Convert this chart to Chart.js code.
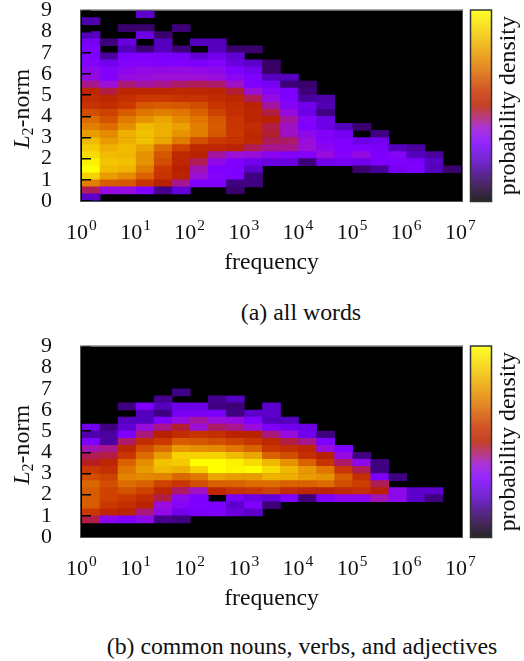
<!DOCTYPE html>
<html lang="en">

<head>
    <meta charset="UTF-8">
    <title>L2-norm vs frequency</title>
    <script src="https://cdn.jsdelivr.net/npm/chart.js"></script>
    <style>
        html, body { margin: 0; padding: 0; background: #fff; width: 524px; height: 661px; overflow: hidden; }
        canvas { position: absolute; left: 0; }
        #chartA { top: 0; }
        #chartB { top: 336px; }
        .caption { position: absolute; left: 0; font-family: "Liberation Serif", serif; font-size: 23.8px; color: #111; white-space: nowrap; }
    </style>
</head>

<body>
    <canvas id="chartA" width="524" height="280"></canvas>
    <canvas id="chartB" width="524" height="280"></canvas>
    <div class="caption" style="left:0;width:602px;text-align:center;top:299px">(a) all words</div>
    <div class="caption" style="left:0;width:604px;text-align:center;top:633px">(b) common nouns, verbs, and adjectives</div>

    <script>
        const decadeTicks = [1, 10, 100, 1000, 10000, 100000, 1000000, 10000000];
        const decadeExponents = ['0', '1', '2', '3', '4', '5', '6', '7'];
        const normTicks = [0, 1, 2, 3, 4, 5, 6, 7, 8, 9];

        // bin centres on log10(frequency), 3 bins per decade
        const freqBins = [0.167, 0.5, 0.833, 1.167, 1.5, 1.833, 2.167, 2.5, 2.833, 3.167, 3.5, 3.833, 4.167, 4.5, 4.833, 5.167, 5.5, 5.833, 6.167, 6.5, 6.833];
        // lower edge of every norm bin, 3 bins per unit
        const normEdges = [0, 0.333, 0.667, 1, 1.333, 1.667, 2, 2.333, 2.667, 3, 3.333, 3.667, 4, 4.333, 4.667, 5, 5.333, 5.667, 6, 6.333, 6.667, 7, 7.333, 7.667, 8, 8.333, 8.667];

        // density in percent of the colour range, first row is the lowest norm bin
        const densityA = [
            [22],
            [45, 36, 36, 30, 15, 24, 0, 0, 12],
            [72, 65, 64, 57, 50, 42, 30, 30, 14, 14],
            [90, 78, 74, 66, 56, 51, 38, 31, 30, 14],
            [100, 85, 83, 72, 58, 50, 40, 30, 30, 22, 0, 0, 0, 0, 0, 12, 16, 28, 30, 20, 12],
            [97, 87, 86, 76, 62, 52, 45, 35, 30, 27, 25, 25, 13, 27, 28, 27, 30, 30, 29, 21],
            [92, 85, 84, 76, 64, 53, 50, 41, 38, 37, 33, 31, 31, 37, 31, 36, 30, 32, 20, 17],
            [88, 82, 85, 80, 68, 60, 53, 52, 51, 45, 42, 42, 38, 33, 30, 30, 29, 20, 17],
            [85, 78, 82, 86, 80, 71, 62, 58, 56, 53, 45, 44, 37, 31, 30, 26, 27],
            [78, 74, 82, 86, 82, 76, 72, 64, 58, 53, 47, 39, 34, 31, 28, 0, 14],
            [72, 68, 75, 84, 82, 79, 72, 65, 57, 54, 46, 39, 30, 26, 20, 12],
            [68, 63, 71, 76, 80, 74, 70, 64, 57, 52, 50, 41, 31, 26],
            [62, 60, 65, 70, 72, 70, 66, 60, 55, 52, 46, 36, 26, 14],
            [56, 54, 58, 64, 65, 64, 62, 57, 54, 51, 41, 32, 27, 19],
            [54, 52, 55, 58, 58, 56, 56, 54, 52, 45, 36, 30, 17, 18],
            [52, 46, 52, 52, 52, 53, 52, 52, 47, 38, 32, 30, 13],
            [42, 38, 43, 41, 42, 44, 45, 44, 39, 30, 28, 13, 12],
            [36, 31, 36, 37, 38, 38, 38, 37, 33, 30, 20, 20],
            [34, 31, 33, 35, 35, 36, 35, 34, 30, 27, 11],
            [31, 27, 31, 31, 30, 30, 29, 31, 25, 22, 11],
            [30, 17, 29, 30, 29, 29, 23, 27, 23],
            [30, 0, 20, 13, 20, 13, 0, 20, 12, 12],
            [28, 13, 25, 0, 20, 0, 20, 20],
            [20, 0, 0, 26, 12],
            [0, 0, 12, 12, 0, 13],
            [18],
            [0, 0, 0, 22]
        ];

        const densityB = [
            [],
            [],
            [46, 33, 30, 34, 15, 14],
            [58, 52, 51, 43, 35, 27, 29, 30, 25, 22],
            [65, 58, 55, 51, 37, 32, 30, 30, 22, 30, 13],
            [65, 60, 58, 54, 46, 34, 30, 0, 29, 26, 24, 30, 13, 30, 33, 33, 40, 34, 22, 14],
            [65, 60, 63, 60, 52, 44, 39, 52, 56, 57, 60, 54, 52, 51, 53, 55, 50, 34, 22, 22],
            [67, 62, 68, 66, 60, 57, 62, 66, 66, 68, 68, 66, 66, 68, 62, 59, 45],
            [62, 60, 73, 74, 73, 67, 70, 80, 78, 78, 83, 82, 78, 76, 65, 55, 30, 14],
            [58, 55, 70, 78, 84, 82, 90, 100, 98, 100, 92, 84, 77, 70, 57, 45, 14],
            [48, 52, 66, 75, 86, 88, 100, 100, 97, 92, 84, 76, 66, 56, 44, 34, 14],
            [45, 46, 57, 68, 78, 90, 90, 90, 85, 80, 66, 62, 55, 50, 36, 14],
            [40, 42, 52, 62, 68, 77, 75, 74, 70, 66, 57, 55, 52, 37, 30],
            [30, 17, 44, 54, 58, 65, 64, 62, 60, 57, 53, 46, 42, 30],
            [18, 17, 30, 43, 50, 54, 57, 55, 51, 51, 43, 37, 27, 14],
            [27, 14, 23, 37, 42, 47, 38, 44, 42, 37, 30, 27, 26],
            [0, 0, 20, 20, 30, 36, 41, 37, 36, 30, 20, 20],
            [0, 0, 0, 20, 14, 28, 28, 29, 14, 22, 22],
            [0, 0, 14, 30, 20, 26, 26, 14, 13, 0, 22],
            [0, 0, 0, 0, 15, 0, 0, 15, 20],
            [0, 0, 0, 0, 0, 14]
        ];

        const colorStops = [
            [0, [0, 0, 0]], [10, [50, 0, 90]], [20, [85, 0, 190]], [30, [127, 0, 255]],
            [38, [155, 15, 215]], [45, [176, 28, 85]], [50, [184, 32, 0]], [58, [202, 56, 0]],
            [70, [224, 118, 0]], [84, [240, 184, 0]], [100, [255, 255, 0]]
        ];

        function densityColor(v) {
            for (let i = 1; i < colorStops.length; i++) {
                const [hi, c1] = colorStops[i];
                const [lo, c0] = colorStops[i - 1];
                if (v <= hi) {
                    const t = (v - lo) / (hi - lo);
                    const c = c0.map((a, k) => Math.round(a + (c1[k] - a) * t));
                    return `rgb(${c[0]},${c[1]},${c[2]})`;
                }
            }
            return 'rgb(255,255,0)';
        }

        // one bar dataset per norm row, zero cells are left out
        function rowDatasets(rows) {
            return rows.map((row, r) => {
                const cells = [];
                row.forEach((v, c) => {
                    if (v > 0) cells.push({ v, x: Math.pow(10, freqBins[c]), y: [normEdges[r], normEdges[r] + 1 / 3] });
                });
                return {
                    data: cells,
                    grouped: false,
                    barPercentage: 1,
                    categoryPercentage: 1,
                    borderWidth: 0,
                    backgroundColor: cells.map(p => densityColor(p.v))
                };
            });
        }

        const SERIF = '"Liberation Serif", serif';

        const framePlugin = {
            id: 'frame',
            beforeDatasetsDraw(chart) {
                const { ctx, chartArea: a } = chart;
                ctx.fillStyle = '#000';
                ctx.fillRect(a.left - 1, a.top, a.right - a.left + 3, a.bottom - a.top);
            },
            afterDraw(chart) {
                const { ctx, chartArea: a, scales } = chart;
                ctx.save();
                ctx.strokeStyle = '#555';
                ctx.lineWidth = 1;
                ctx.strokeRect(a.left - 1.5, a.top - 0.5, a.right - a.left + 3, a.bottom - a.top + 1);

                // colour bar
                const bx = 471, bw = 20, bh = a.bottom - a.top;
                for (let i = 0; i < bh; i++) {
                    ctx.fillStyle = densityColor(100 * (1 - (i + 0.5) / bh));
                    ctx.fillRect(bx, a.top + i, bw, 1.2);
                }
                ctx.strokeStyle = '#333';
                ctx.lineWidth = 1.5;
                ctx.strokeRect(bx - 0.5, a.top - 0.5, bw + 1, bh + 1);

                ctx.fillStyle = '#111';
                ctx.textBaseline = 'alphabetic';
                const midY = (a.top + a.bottom) / 2;

                // x labels with raised exponents
                decadeTicks.forEach((v, i) => {
                    const px = scales.x.getPixelForValue(v);
                    ctx.textAlign = 'left';
                    ctx.font = '22px ' + SERIF;
                    ctx.fillText('10', px - 16, a.bottom + 38);
                    ctx.font = '15.5px ' + SERIF;
                    ctx.fillText(decadeExponents[i], px + 7, a.bottom + 29);
                });

                ctx.save();
                ctx.translate(515, midY);
                ctx.rotate(-Math.PI / 2);
                ctx.textAlign = 'center';
                ctx.font = '23.8px ' + SERIF;
                ctx.fillText('probability density', 0, 0);
                ctx.restore();

                // y title has a subscript, so it goes piece by piece
                ctx.save();
                ctx.translate(29, midY + 43);
                ctx.rotate(-Math.PI / 2);
                ctx.textAlign = 'left';
                ctx.font = 'italic 24px ' + SERIF;
                ctx.fillText('L', 0, 0);
                let w = ctx.measureText('L').width;
                ctx.font = '16px ' + SERIF;
                ctx.fillText('2', w, 4);
                w += ctx.measureText('2').width;
                ctx.font = '24px ' + SERIF;
                ctx.fillText('-norm', w, 0);
                ctx.restore();
                ctx.restore();
            }
        };

        function makeHeatmap(id, rows) {
            return new Chart(document.getElementById(id), {
                type: 'bar',
                data: { datasets: rowDatasets(rows) },
                plugins: [framePlugin],
                options: {
                    responsive: false,
                    animation: false,
                    layout: { padding: { left: 0, right: 63, top: 10.5, bottom: 0 } },
                    plugins: { legend: { display: false }, tooltip: { enabled: false } },
                    scales: {
                        x: {
                            type: 'logarithmic',
                            min: 1,
                            max: 10000000,
                            offset: false,
                            afterBuildTicks: s => { s.ticks = decadeTicks.map(value => ({ value, major: true })); },
                            afterFit: s => { s.height = 79; s.paddingTop = 0; },
                            border: { display: false },
                            grid: { drawOnChartArea: false, tickLength: -5, color: '#000', z: 1 },
                            ticks: { display: false },
                            title: {
                                display: true,
                                text: 'frequency',
                                color: '#111',
                                font: { family: SERIF, size: 23.7 },
                                padding: { top: 0, bottom: 3 }
                            }
                        },
                        y: {
                            min: 0,
                            max: 9,
                            afterBuildTicks: s => { s.ticks = normTicks.map(value => ({ value })); },
                            afterFit: s => { s.width = 82; s.paddingTop = 0; s.paddingBottom = 0; },
                            border: { display: false },
                            grid: { drawOnChartArea: false, tickLength: -9, color: '#000', lineWidth: 1.5, z: 1 },
                            ticks: {
                                autoSkip: false,
                                padding: 39,
                                color: '#111',
                                font: { family: SERIF, size: 22 }
                            }
                        }
                    }
                }
            });
        }

        makeHeatmap('chartA', densityA);
        makeHeatmap('chartB', densityB);
    </script>
</body>

</html>
